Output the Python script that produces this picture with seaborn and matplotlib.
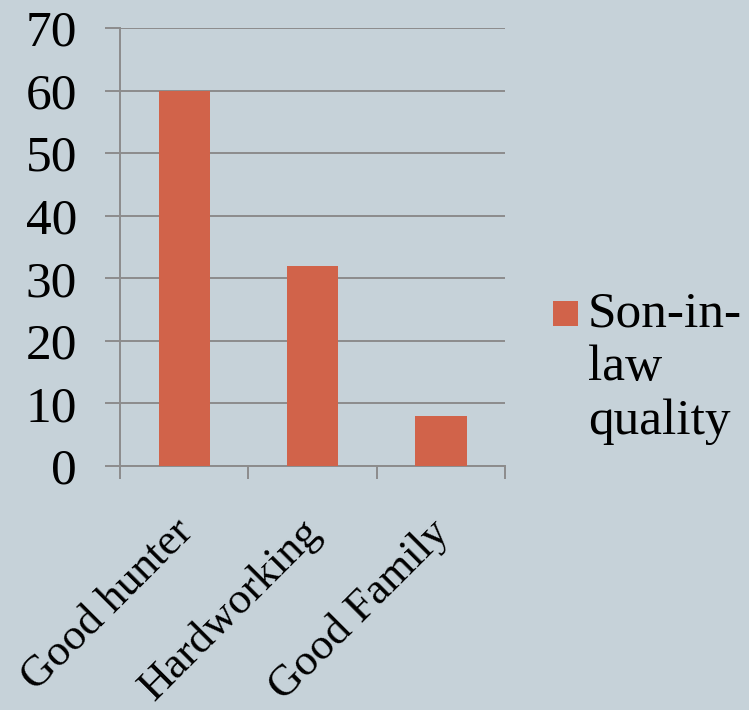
import matplotlib
matplotlib.use("Agg")
import matplotlib.pyplot as plt
import matplotlib.transforms as mtransforms
import seaborn as sns
import pandas as pd
from matplotlib.patches import Rectangle

categories = ["Good hunter", "Hardworking", "Good Family"]
values = [60, 32, 8]
series_name = "Son-in-\nlaw\nquality"
yticks = [0, 10, 20, 30, 40, 50, 60, 70]

BG = "#C6D2D9"
BAR = "#D1634A"
GRID = "#8C8C8C"

sns.set_theme(style="white")
plt.rcParams["font.family"] = ["Liberation Serif", "DejaVu Serif"]

df = pd.DataFrame({"quality": categories, "value": values})

fig = plt.figure(figsize=(7.49, 7.10), dpi=100, facecolor=BG)
ax = fig.add_axes([120 / 749, 1 - 466 / 710, 385 / 749, 438 / 710])
ax.set_facecolor(BG)

sns.barplot(data=df, x="quality", y="value", color=BAR, saturation=1,
            width=0.4, ax=ax, zorder=3, linewidth=0)

ax.set_xlim(-0.5, len(categories) - 0.5)
ax.set_ylim(0, 70)
ax.set_yticks(yticks)
ax.set_yticklabels([str(t) for t in yticks], fontsize=37, color="black")
ax.yaxis.grid(True, color=GRID, linewidth=1.4, zorder=0)
ax.set_axisbelow(True)
ax.tick_params(axis="y", length=10.8, width=1.4, color=GRID, pad=20, left=True)

ax.set_xticks(range(len(categories)))
ax.set_xticklabels(categories, rotation=45, ha="right", rotation_mode="anchor",
                   fontsize=32, color="black")
ax.tick_params(axis="x", which="major", length=0, pad=33)
ax.set_xticks([i - 0.5 for i in range(len(categories) + 1)], minor=True)
ax.tick_params(axis="x", which="minor", length=9.5, width=1.4, color=GRID, bottom=True)
offset = mtransforms.ScaledTranslation(-12 / 100, 0, fig.dpi_scale_trans)
for lbl in ax.get_xticklabels():
    lbl.set_transform(lbl.get_transform() + offset)

for s in ["top", "right"]:
    ax.spines[s].set_visible(False)
for s in ["left", "bottom"]:
    ax.spines[s].set_color(GRID)
    ax.spines[s].set_linewidth(1.4)

ax.set_xlabel("")
ax.set_ylabel("")

# legend
fig.patches.append(Rectangle((553 / 749, 1 - 326 / 710), 25 / 749, 25 / 710,
                             transform=fig.transFigure, facecolor=BAR,
                             edgecolor="none"))
fig.text(588 / 749, 1 - 291 / 710, series_name, fontsize=37, va="top",
         ha="left", linespacing=1.2, color="black")

fig.savefig("out.png", dpi=100, facecolor=BG)
